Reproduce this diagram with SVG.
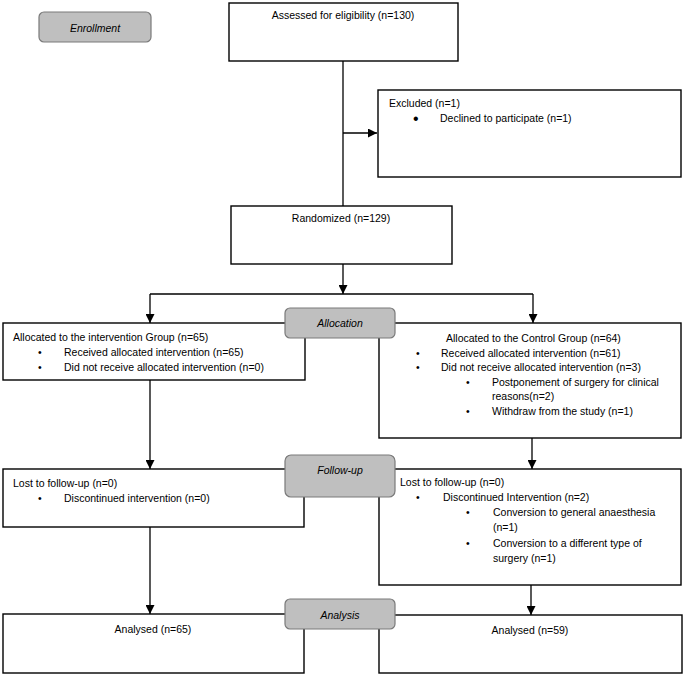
<svg xmlns="http://www.w3.org/2000/svg" width="685" height="676" viewBox="0 0 685 676">
<defs>
<marker id="ah" markerUnits="userSpaceOnUse" markerWidth="9" markerHeight="9" refX="9" refY="4.5" orient="auto">
<path d="M0,0 L9,4.5 L0,9 z" fill="#000"/>
</marker>
<style>
.box{fill:#fff;stroke:#000;stroke-width:1.4}
.stage{fill:#bfbfbf;stroke:#7a7a7a;stroke-width:1.2}
text{font-family:"Liberation Sans",Arial,sans-serif;font-size:10.5px;fill:#000}
.c{text-anchor:middle}
.i{font-style:italic}
.big{font-size:16px}
.ln{fill:none;stroke:#000;stroke-width:1.3}
.arr{fill:none;stroke:#000;stroke-width:1.3;marker-end:url(#ah)}
</style>
</defs>
<rect width="685" height="676" fill="#fff"/>
<g id="connectors">
<path class="ln" d="M343,61 V206" stroke="#444"/>
<path class="arr" d="M343,133 H377"/>
<path class="arr" d="M343,264 V294"/>
<path class="ln" d="M150,294 H533"/>
<path class="arr" d="M150,294 V323"/>
<path class="arr" d="M533,294 V323"/>
<path class="arr" d="M150,380 V469"/>
<path class="arr" d="M532,438 V469"/>
<path class="arr" d="M150,527 V614"/>
<path class="arr" d="M531,585 V615"/>
</g>
<g id="assessed">
<rect class="box" x="229" y="3" width="229" height="58"/>
<text class="c" x="343" y="19">Assessed for eligibility (n=130)</text>
</g>
<g id="excluded">
<rect class="box" x="378" y="90" width="303" height="87"/>
<text x="389" y="107">Excluded (n=1)</text>
<text class="big" x="413" y="124">•</text>
<text x="440" y="122">Declined to participate (n=1)</text>
</g>
<g id="randomized">
<rect class="box" x="231" y="206" width="221" height="58"/>
<text class="c" x="341" y="222">Randomized (n=129)</text>
</g>
<g id="alloc-intervention">
<rect class="box" x="3" y="323" width="302" height="57"/>
<text x="13" y="341">Allocated to the intervention Group (n=65)</text>
<text x="38" y="356">•</text>
<text x="64" y="356">Received allocated intervention (n=65)</text>
<text x="38" y="371">•</text>
<text x="64" y="371">Did not receive allocated intervention (n=0)</text>
</g>
<g id="alloc-control">
<rect class="box" x="379" y="323" width="302" height="115"/>
<text x="446" y="342">Allocated to the Control Group (n=64)</text>
<text x="416" y="356.5">•</text>
<text x="441" y="356.5">Received allocated intervention (n=61)</text>
<text x="416" y="371">•</text>
<text x="441" y="371">Did not receive allocated intervention (n=3)</text>
<text x="466" y="385.5">•</text>
<text x="492" y="385.5">Postponement of surgery for clinical</text>
<text x="492" y="400">reasons(n=2)</text>
<text x="466" y="414.5">•</text>
<text x="492" y="414.5">Withdraw from the study (n=1)</text>
</g>
<g id="followup-intervention">
<rect class="box" x="3" y="469" width="301" height="58"/>
<text x="13" y="487">Lost to follow-up (n=0)</text>
<text x="38" y="502">•</text>
<text x="64" y="502">Discontinued intervention (n=0)</text>
</g>
<g id="followup-control">
<rect class="box" x="379" y="469" width="302" height="116"/>
<text x="400" y="486">Lost to follow-up (n=0)</text>
<text x="416" y="501">•</text>
<text x="443" y="501">Discontinued Intervention (n=2)</text>
<text x="466" y="516">•</text>
<text x="493" y="516">Conversion to general anaesthesia</text>
<text x="493" y="531">(n=1)</text>
<text x="466" y="547">•</text>
<text x="493" y="547">Conversion to a different type of</text>
<text x="493" y="562">surgery (n=1)</text>
</g>
<g id="analysed-intervention">
<rect class="box" x="3" y="614" width="301" height="59"/>
<text class="c" x="153" y="633">Analysed (n=65)</text>
</g>
<g id="analysed-control">
<rect class="box" x="379" y="615" width="303" height="58"/>
<text class="c" x="530" y="634">Analysed (n=59)</text>
</g>
<g id="stage-enrollment">
<rect class="stage" x="39" y="12" width="112" height="30" rx="5"/>
<text class="c i" x="95" y="31.5">Enrollment</text>
</g>
<g id="stage-allocation">
<rect class="stage" x="285" y="308" width="110" height="30" rx="5"/>
<text class="c i" x="340" y="327">Allocation</text>
</g>
<g id="stage-followup">
<rect class="stage" x="285" y="455" width="110" height="42" rx="6"/>
<text class="c i" x="340" y="474">Follow-up</text>
</g>
<g id="stage-analysis">
<rect class="stage" x="285" y="599" width="110" height="30" rx="5"/>
<text class="c i" x="340" y="619">Analysis</text>
</g>
</svg>
